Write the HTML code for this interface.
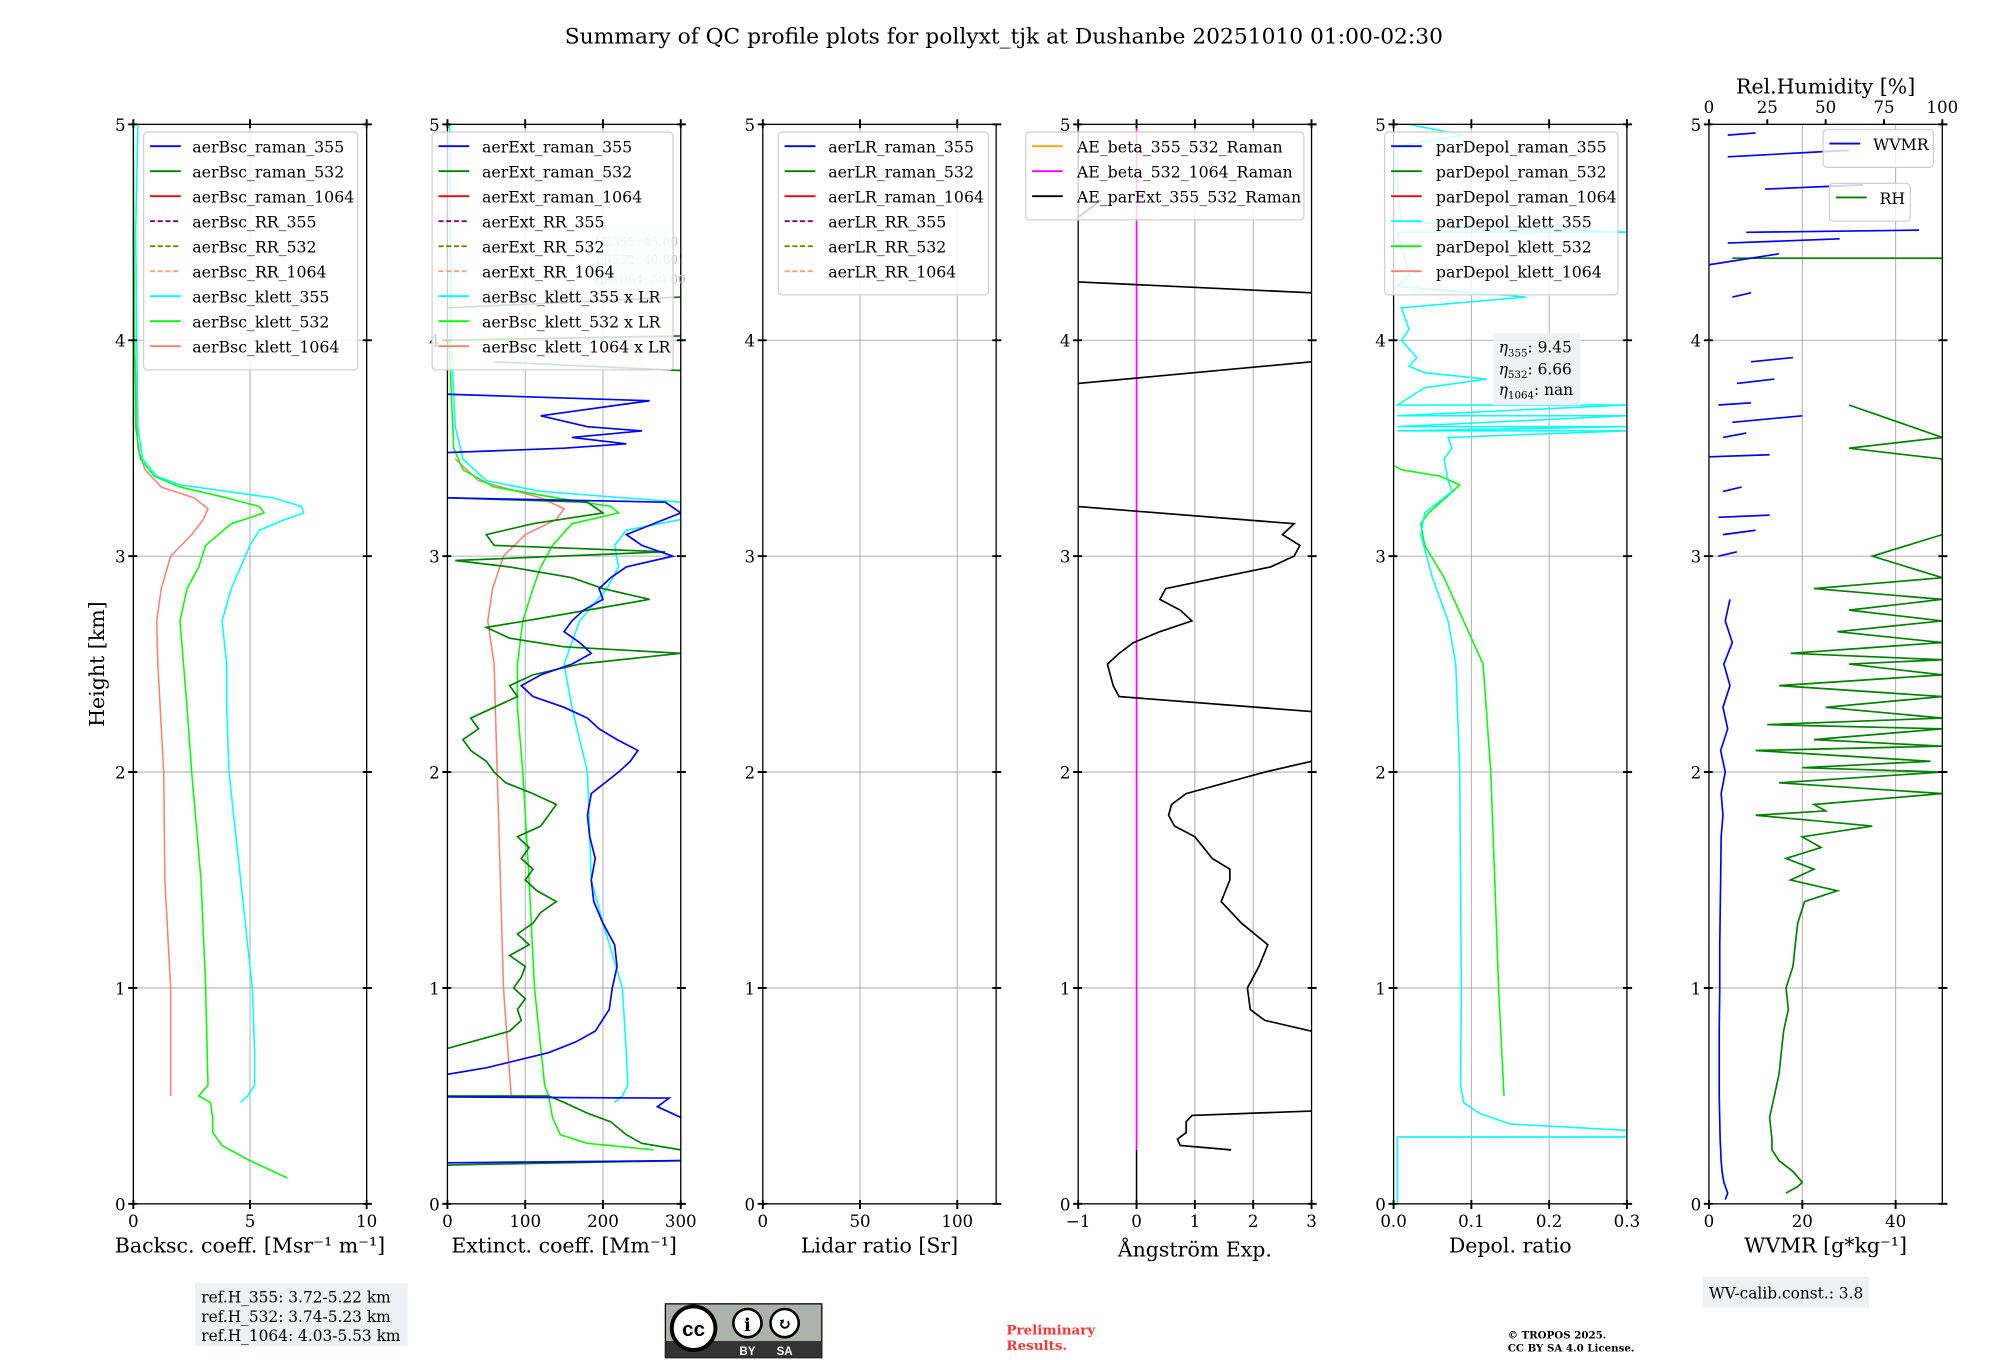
<!DOCTYPE html>
<html><head><meta charset="utf-8">
<style>
html,body{margin:0;padding:0;background:#fff;}
svg{display:block;font-family:"DejaVu Serif","Liberation Serif",serif;}
</style></head>
<body>
<svg id="fig" width="2000" height="1360" viewBox="0 0 1560 1060.8" preserveAspectRatio="none" xmlns="http://www.w3.org/2000/svg">
<text x="783" y="34" font-size="17" text-anchor="middle">Summary of QC profile plots for pollyxt_tjk at Dushanbe 20251010 01:00-02:30</text>
<g id="plots"></g>
<g>
<rect x="152" y="1001" width="166" height="49" fill="#eef0f5"/>
<text x="157" y="1016" font-size="12">ref.H_355: 3.72-5.22 km</text>
<text x="157" y="1031" font-size="12">ref.H_532: 3.74-5.23 km</text>
<text x="157" y="1046" font-size="12">ref.H_1064: 4.03-5.53 km</text>
</g>
<g>
<rect x="519" y="1017" width="122" height="42" fill="#aab2ab" stroke="#000" stroke-width="1"/>
<rect x="519" y="1046" width="122" height="13" fill="#333"/>
<circle cx="541" cy="1036" r="17" fill="#fff" stroke="#000" stroke-width="3"/>
<text x="541" y="1042" font-size="16" font-weight="bold" text-anchor="middle" font-family="Liberation Sans, sans-serif">cc</text>
<circle cx="583" cy="1032" r="11" fill="#fff" stroke="#000" stroke-width="2"/>
<circle cx="612" cy="1032" r="11" fill="#fff" stroke="#000" stroke-width="2"/>
<text x="583" y="1038" font-size="14" text-anchor="middle" font-weight="bold">i</text>
<text x="612" y="1037" font-size="13" text-anchor="middle" font-weight="bold">↻</text>
<text x="583" y="1057" font-size="9" fill="#fff" text-anchor="middle" font-family="Liberation Sans, sans-serif" font-weight="bold">BY</text>
<text x="612" y="1057" font-size="9" fill="#fff" text-anchor="middle" font-family="Liberation Sans, sans-serif" font-weight="bold">SA</text>
</g>
<text x="785" y="1041" font-size="10.5" fill="#ff3333" font-weight="bold">Preliminary</text>
<text x="785" y="1053" font-size="10.5" fill="#ff3333" font-weight="bold">Results.</text>
<text x="1176" y="1044" font-size="8" font-weight="bold">© TROPOS 2025.</text>
<text x="1176" y="1054" font-size="8" font-weight="bold">CC BY SA 4.0 License.</text>
<g>
<rect x="1328" y="996" width="130" height="24" fill="#eef0f5"/>
<text x="1333" y="1013" font-size="12">WV-calib.const.: 3.8</text>
</g>
</svg>
<script>
// ---- data (heights km, values in axis units; null = gap) ----
const bscKlett355H=[0.47,0.5,0.55,0.7,1.0,1.5,2.0,2.3,2.5,2.7,2.85,2.95,3.05,3.12,3.17,3.2,3.23,3.27,3.3,3.33,3.37,3.45,3.6,4.0,4.5,5.0];
const bscKlett355V=[4.6,4.9,5.2,5.2,5.1,4.6,4.1,4.0,4.0,3.8,4.2,4.6,5.0,5.4,6.5,7.3,7.2,6.0,4.0,2.0,1.0,0.4,0.2,0.15,0.1,0.2];
const bscKlett532H=[0.12,0.2,0.27,0.33,0.4,0.47,0.5,0.55,1.0,1.5,2.0,2.3,2.7,2.85,2.95,3.05,3.15,3.2,3.23,3.27,3.32,3.37,3.45,3.6,4,5];
const bscKlett532V=[6.6,5.0,3.8,3.4,3.4,3.3,2.8,3.2,3.1,2.9,2.5,2.3,2.0,2.3,2.8,3.1,4.2,5.6,5.4,4.0,2.0,0.9,0.3,0.1,0.05,0];
const bscKlett1064H=[0.5,0.6,1.0,1.5,2.0,2.5,2.7,2.85,3.0,3.1,3.17,3.22,3.27,3.32,3.4,3.5,4];
const bscKlett1064V=[1.6,1.6,1.6,1.35,1.3,1.05,1.0,1.2,1.6,2.5,3.0,3.2,2.6,1.2,0.5,0.2,0.05];

const ext355H=[0.19,0.2,null,0.4,0.45,0.49,0.495,null,0.6,0.63,0.7,0.75,0.8,0.9,1.0,1.1,1.2,1.3,1.4,1.5,1.6,1.7,1.8,1.9,2.0,2.05,2.1,2.15,2.2,2.25,2.3,2.35,2.4,2.45,2.5,2.55,2.6,2.65,2.7,2.75,2.8,2.85,2.9,2.95,3.0,3.05,3.1,3.15,3.2,3.25,3.27,null,3.48,3.5,3.52,3.55,3.58,3.6,3.65,3.68,3.7,3.72,3.75,null,4.38,4.4];
const ext355V=[0,300,null,300,270,285,0,null,0,50,130,165,190,208,212,218,215,200,188,185,190,183,180,185,220,235,245,218,195,180,150,110,95,120,160,185,170,150,160,175,200,195,210,230,290,250,230,265,300,280,0,null,0,150,230,160,250,180,120,180,220,260,0,null,300,300];
const ext532H=[0.18,0.2,null,0.25,0.28,0.32,0.38,0.42,0.47,0.5,0.5,null,0.72,0.8,0.85,0.9,0.95,1.0,1.05,1.1,1.15,1.2,1.25,1.3,1.35,1.4,1.45,1.5,1.55,1.6,1.65,1.7,1.75,1.8,1.85,1.9,1.95,2.0,2.05,2.1,2.15,2.2,2.25,2.3,2.35,2.4,2.45,2.5,2.55,2.58,2.62,2.67,2.7,2.75,2.8,2.85,2.9,2.95,2.98,3.02,3.05,3.1,3.15,3.2,3.25,3.27,null,3.86,3.9,null,4.0,4.02,null,4.15,4.2];
const ext532V=[0,300,null,300,250,230,210,180,150,130,0,null,0,80,95,90,100,85,95,100,80,105,90,110,120,140,115,100,110,95,105,90,120,130,140,110,75,60,50,30,20,40,30,60,90,80,110,170,300,150,80,50,100,180,260,200,160,80,10,280,60,50,110,200,180,0,null,300,60,null,0,300,null,0,300];
const extKlett355H=[0.47,0.5,0.55,0.7,1.0,1.3,1.5,2.0,2.3,2.5,2.7,2.85,2.95,3.05,3.12,3.17,3.2,3.25,3.3,3.35,3.45,3.6,4,5];
const extKlett355V=[215,225,232,230,225,200,185,180,160,150,170,205,220,215,230,300,300,300,120,50,20,10,5,3];
const extKlett532H=[0.25,0.28,0.32,0.4,0.5,0.55,1.0,1.5,2.0,2.3,2.5,2.7,2.85,2.95,3.05,3.15,3.2,3.23,3.27,3.32,3.4,3.5,4];
const extKlett532V=[265,180,145,135,130,125,112,105,97,90,90,97,110,120,135,160,220,210,140,60,20,8,2];
const extKlett1064H=[0.5,1.0,1.5,2.0,2.5,2.7,2.85,3.0,3.1,3.17,3.22,3.27,3.35,3.45];
const extKlett1064V=[82,72,68,64,60,52,58,72,100,140,150,120,40,10];

const aeH=[0.25,0.27,0.3,0.33,0.38,0.41,0.43,null,0.8,0.85,0.9,1.0,1.1,1.2,1.3,1.4,1.5,1.55,1.6,1.7,1.75,1.8,1.85,1.9,2.0,2.05,null,2.28,2.35,2.4,2.45,2.5,2.55,2.6,2.65,2.7,2.75,2.8,2.85,2.9,2.95,3.0,3.05,3.1,3.15,3.23,null,3.8,3.9,null,4.27,4.22,null,4.57,4.65];
const aeV=[1.62,0.75,0.7,0.85,0.85,0.95,3.0,null,3.0,2.2,1.95,1.9,2.1,2.25,1.8,1.45,1.6,1.6,1.3,1.0,0.65,0.55,0.6,0.85,2.2,3.0,null,3.0,-0.3,-0.4,-0.45,-0.5,-0.3,-0.05,0.4,0.95,0.75,0.4,0.5,1.4,2.3,2.7,2.8,2.5,2.7,-1,null,-1,3,null,-1,3,null,-1,-0.6];
const aeBeta532H=[0.25,5.0];
const aeBeta532V=[0,0];

const dep355H=[0,0.1,0.3,0.31,0.31,0.33,0.34,0.37,0.42,0.47,0.55,1.0,2.0,2.5,2.7,2.9,3.1,3.2,3.3,3.35,3.45,3.5,3.55,3.58,3.58,3.6,3.6,3.65,3.65,3.7,3.7,3.78,3.82,3.85,3.88,3.92,4.0,4.05,4.15,4.2,4.25,4.3,4.5,4.5,4.55,4.7,4.9,4.95,5.0];
const dep355V=[0.005,0.005,0.005,0.005,0.3,0.3,0.3,0.15,0.11,0.09,0.086,0.087,0.085,0.08,0.07,0.05,0.035,0.04,0.075,0.07,0.065,0.075,0.07,0.3,0.005,0.3,0.005,0.3,0.005,0.3,0.005,0.04,0.12,0.04,0.02,0.03,0.01,0.02,0.01,0.17,0.005,0.02,0.005,0.3,0.01,0.005,0.005,0.09,0.02];
const dep532H=[0.5,1.0,1.5,2.0,2.5,2.7,2.9,3.05,3.15,3.2,3.28,3.33,3.37,3.4,3.42];
const dep532V=[0.142,0.135,0.13,0.125,0.115,0.09,0.065,0.04,0.035,0.045,0.07,0.085,0.06,0.01,0.0];

const wvmrH=[0.02,0.05,0.1,0.15,0.2,0.3,0.5,0.8,1.0,1.2,1.5,1.7,1.8,1.9,2.0,2.1,2.2,2.3,2.4,2.5,2.6,2.7,2.8,null,3.0,3.02,null,3.1,3.12,null,3.18,3.19,null,3.3,3.32,null,3.46,3.47,null,3.55,3.57,null,3.62,3.65,null,3.7,3.71,null,3.8,3.82,null,3.9,3.92,null,4.2,4.22,null,4.35,4.4,null,4.45,4.47,null,4.5,4.51,null,4.7,4.72,null,4.85,4.88,null,4.95,4.96];
const wvmrV=[3.5,4,3.2,2.8,2.6,2.4,2.2,2.2,2.3,2.3,2.5,2.6,3,2.6,3.5,2.5,4,3,4.5,3.2,5,3.5,4.5,null,2,6,null,3,10,null,2,13,null,3,7,null,0,13,null,3,8,null,5,20,null,2,9,null,6,14,null,9,18,null,5,9,null,0,15,null,4,28,null,8,45,null,12,33,null,4,30,null,4,10];
const rhH=[0.05,0.08,0.1,0.15,0.2,0.25,0.3,0.4,0.5,0.6,0.7,0.8,0.9,1.0,1.1,1.2,1.3,1.4,1.45,1.5,1.55,1.6,1.65,1.7,1.75,1.8,1.82,1.85,1.9,1.95,2.0,2.02,2.05,2.1,2.12,2.15,2.2,2.22,2.25,2.3,2.35,2.4,2.45,2.5,2.52,2.55,2.6,2.65,2.7,2.75,2.8,2.85,2.9,3.0,3.1,3.2,3.45,3.5,3.55,3.7,null,4.38,4.38];
const rhV=[33,38,40,36,30,27,27,26,28,30,31,32,34,33,36,37,38,41,55,35,45,33,48,40,70,20,50,45,100,30,100,40,95,20,100,45,100,25,100,50,100,30,100,60,100,35,100,55,100,60,100,45,100,70,100,100,100,60,100,60,null,10,100];

const heightTicks=[0,1,2,3,4,5];

// ---- layout ----
const NS="http://www.w3.org/2000/svg";
const Y0=939, Y1=97, HMAX=5;
function yScale(h){return Y0-(h/HMAX)*(Y0-Y1);}
function el(tag,attrs,parent){const e=document.createElementNS(NS,tag);for(const k in attrs)e.setAttribute(k,attrs[k]);parent.appendChild(e);return e;}
const root=document.getElementById('plots');

const panels=[
 {name:'backscatter',x0:104,min:0,max:10,ticks:[0,5,10],label:'Backsc. coeff. [Msr\u207B\u00B9 m\u207B\u00B9]'},
 {name:'extinction',x0:349,min:0,max:300,ticks:[0,100,200,300],label:'Extinct. coeff. [Mm\u207B\u00B9]'},
 {name:'lidar-ratio',x0:595,min:0,max:120,ticks:[0,50,100],label:'Lidar ratio [Sr]'},
 {name:'angstrom',x0:841,min:-1,max:3,ticks:[-1,0,1,2,3],label:'\u212Bngstr\u00F6m Exp.'},
 {name:'depol',x0:1087,min:0,max:0.3,ticks:[0,0.1,0.2,0.3],tickFmt:v=>v.toFixed(1),label:'Depol. ratio'},
 {name:'wvmr',x0:1333,min:0,max:50,ticks:[0,20,40],label:'WVMR [g*kg\u207B\u00B9]'}
];
const W=182;
function xs(p,v){return p.x0+(v-p.min)/(p.max-p.min)*W;}

function drawLine(g,p,H,V,color,width,dash,nameStr,xfn){
 let d='',pen=false;
 for(let i=0;i<H.length;i++){
  if(H[i]===null||V[i]===null){pen=false;continue;}
  const x=xfn?xfn(V[i]):xs(p,V[i]);const y=yScale(H[i]);
  d+=(pen?'L':'M')+x.toFixed(1)+' '+y.toFixed(1)+' ';pen=true;
 }
 const path=el('path',{d:d,fill:'none',stroke:color,'stroke-width':width},g);
 if(dash)path.setAttribute('stroke-dasharray',dash);
 
 
 return path;
}

function drawAxes(p){
 const g=el('g',{},root);
 
 
 const clip=el('clipPath',{id:'clip-'+p.name},g);
 el('rect',{x:p.x0,y:Y1,width:W,height:Y0-Y1},clip);
 const grid=el('g',{stroke:'#b0b0b0','stroke-width':0.8},g);
 
 
 heightTicks.forEach(h=>el('line',{x1:p.x0,x2:p.x0+W,y1:yScale(h),y2:yScale(h)},grid));
 p.ticks.forEach(t=>el('line',{x1:xs(p,t),x2:xs(p,t),y1:Y1,y2:Y0},grid));
 const data=el('g',{'clip-path':'url(#clip-'+p.name+')'},g);
 
 
 const sp=el('rect',{x:p.x0,y:Y1,width:W,height:Y0-Y1,fill:'none',stroke:'#000','stroke-width':1},g);
 
 
 heightTicks.forEach(h=>{
  const y=yScale(h);
  el('line',{x1:p.x0-4,x2:p.x0+3,y1:y,y2:y,stroke:'#000','stroke-width':1.5},g);
  el('line',{x1:p.x0+W-3,x2:p.x0+W+4,y1:y,y2:y,stroke:'#000','stroke-width':1.5},g);
  const t=el('text',{x:p.x0-6,y:y+5,'font-size':13,'text-anchor':'end'},g);
  t.textContent=String(h);
  
  
 });
 p.ticks.forEach(v=>{
  const x=xs(p,v);
  el('line',{x1:x,x2:x,y1:Y0-3,y2:Y0+4,stroke:'#000','stroke-width':1.5},g);
  if(p.name!=='wvmr') el('line',{x1:x,x2:x,y1:Y1-4,y2:Y1+3,stroke:'#000','stroke-width':1.5},g);
  const t=el('text',{x:x,y:Y0+18,'font-size':13,'text-anchor':'middle'},g);
  t.textContent=p.tickFmt?p.tickFmt(v):(v<0?'\u2212'+(-v):String(v));
  
  
 });
 const lab=el('text',{x:p.x0+W/2,y:p.name==='angstrom'?980:977,'font-size':16,'text-anchor':'middle'},g);
 lab.textContent=p.label;
 
 
 return data;
}

function legend(x,y,w,items,textX){
 const g=el('g',{},root);
 
 
 el('rect',{x:x,y:y,width:w,height:items.length*19.5+10,rx:3,fill:'#fff','fill-opacity':0.8,stroke:'#d0d0d0','stroke-width':1},g);
 items.forEach((it,i)=>{
  const yy=y+11+i*19.5;
  const ln=el('line',{x1:x+5,x2:x+29,y1:yy,y2:yy,stroke:it[1],'stroke-width':1.5},g);
  if(it[2])ln.setAttribute('stroke-dasharray','4,2');
  const t=el('text',{x:textX||x+38,y:yy+5,'font-size':12.3},g);
  t.textContent=it[0];
  
  
 });
}

const d=panels.map(drawAxes);
drawLine(d[0],panels[0],bscKlett1064H,bscKlett1064V,'#fa8072',1.2,null,'line-bsc-klett-1064');
drawLine(d[0],panels[0],bscKlett532H,bscKlett532V,'#00ff00',1.2,null,'line-bsc-klett-532');
drawLine(d[0],panels[0],bscKlett355H,bscKlett355V,'#00ffff',1.2,null,'line-bsc-klett-355');
drawLine(d[1],panels[1],extKlett1064H,extKlett1064V,'#fa8072',1.2,null,'line-ext-klett-1064');
drawLine(d[1],panels[1],extKlett532H,extKlett532V,'#00ff00',1.2,null,'line-ext-klett-532');
drawLine(d[1],panels[1],extKlett355H,extKlett355V,'#00ffff',1.2,null,'line-ext-klett-355');
drawLine(d[1],panels[1],ext532H,ext532V,'#008000',1.3,null,'line-ext-raman-532');
drawLine(d[1],panels[1],ext355H,ext355V,'#0000ff',1.3,null,'line-ext-raman-355');
drawLine(d[3],panels[3],[0,0.25],[0,0],'#000',1.2,null,'line-ae-zero');
drawLine(d[3],panels[3],aeBeta532H,aeBeta532V,'#ff00ff',1.3,null,'line-ae-beta-532-1064');
drawLine(d[3],panels[3],aeH,aeV,'#000',1.3,null,'line-ae-parext-355-532');
drawLine(d[4],panels[4],dep532H,dep532V,'#00ff00',1.2,null,'line-pardepol-klett-532');
drawLine(d[4],panels[4],dep355H,dep355V,'#00ffff',1.2,null,'line-pardepol-klett-355');
drawLine(d[5],panels[5],rhH,rhV,'#008000',1.3,null,'line-rh',v=>1333+v/100*W);
drawLine(d[5],panels[5],wvmrH,wvmrV,'#0000ff',1.3,null,'line-wvmr');

const rhTicks=[0,25,50,75,100];
const gt=el('g',{},root);


rhTicks.forEach(v=>{
 const x=1333+v/100*W;
 el('line',{x1:x,x2:x,y1:Y1-4,y2:Y1,stroke:'#000','stroke-width':1.5},gt);
 const t=el('text',{x:x,y:Y1-9,'font-size':13,'text-anchor':'middle'},gt);
 t.textContent=String(v);
 
 
});
const rt=el('text',{x:1424,y:73,'font-size':16,'text-anchor':'middle'},gt);
rt.textContent='Rel.Humidity [%]';



const yt=el('text',{x:0,y:0,'font-size':16,'text-anchor':'middle',transform:'translate(81,518) rotate(-90)'},root);
yt.textContent='Height [km]';



legend(112,103,167,[['aerBsc_raman_355','#0000ff'],['aerBsc_raman_532','#008000'],['aerBsc_raman_1064','#ff0000'],['aerBsc_RR_355','#800080',1],['aerBsc_RR_532','#808000',1],['aerBsc_RR_1064','#ffa07a',1],['aerBsc_klett_355','#00ffff'],['aerBsc_klett_532','#00ff00'],['aerBsc_klett_1064','#fa8072']],150);
const lrg=el('g',{},root);


el('rect',{x:462,y:178,width:64,height:48,fill:'#eef0f5','fill-opacity':0.5},lrg);
[['LR355: 45.00',192],['LR532: 40.00',206],['LR1064: 50.00',221]].forEach(a=>{const t=el('text',{x:464,y:a[1],'font-size':9.5,fill:'#bbb'},lrg);t.textContent=a[0];});
legend(337,103,188,[['aerExt_raman_355','#0000ff'],['aerExt_raman_532','#008000'],['aerExt_raman_1064','#ff0000'],['aerExt_RR_355','#800080',1],['aerExt_RR_532','#808000',1],['aerExt_RR_1064','#ffa07a',1],['aerBsc_klett_355 x LR','#00ffff'],['aerBsc_klett_532 x LR','#00ff00'],['aerBsc_klett_1064 x LR','#fa8072']],376);
legend(607,103,164,[['aerLR_raman_355','#0000ff'],['aerLR_raman_532','#008000'],['aerLR_raman_1064','#ff0000'],['aerLR_RR_355','#800080',1],['aerLR_RR_532','#808000',1],['aerLR_RR_1064','#ffa07a',1]],646);
legend(800,103,217,[['AE_beta_355_532_Raman','#ffa500'],['AE_beta_532_1064_Raman','#ff00ff'],['AE_parExt_355_532_Raman','#000000']],840);
legend(1080,103,182,[['parDepol_raman_355','#0000ff'],['parDepol_raman_532','#008000'],['parDepol_raman_1064','#ff0000'],['parDepol_klett_355','#00ffff'],['parDepol_klett_532','#00ff00'],['parDepol_klett_1064','#fa8072']],1120);
legend(1422,101,86,[['WVMR','#0000ff']],1461);
legend(1427,143,63,[['RH','#008000']],1466);

const eg=el('g',{},root);


el('rect',{x:1165,y:260,width:68,height:56,fill:'#eef0f5','fill-opacity':0.9},eg);
[['η','355',': 9.45',275],['η','532',': 6.66',292],['η','1064',': nan',308]].forEach(a=>{
 const t=el('text',{x:1169,y:a[3],'font-size':12},eg);
 t.innerHTML='<tspan font-style="italic">'+a[0]+'</tspan><tspan font-size="8" dy="3">'+a[1]+'</tspan><tspan dy="-3">'+a[2]+'</tspan>';
});
</script>
</body></html>
